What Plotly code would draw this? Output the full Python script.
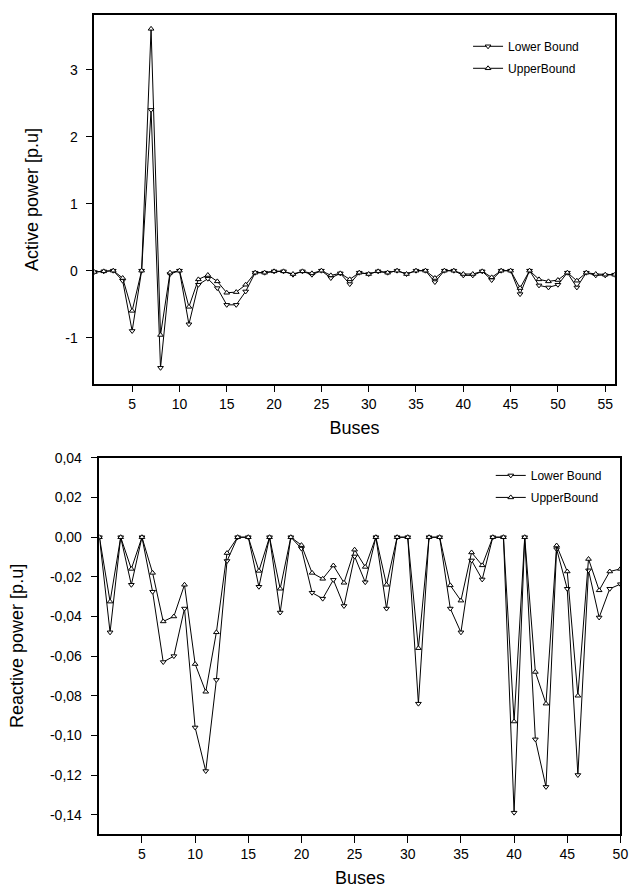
import plotly.graph_objects as go

# ---- Top chart: active power ----
buses_p = list(range(1, 57))
p_lower = [-0.02, -0.01, 0.0, -0.15, -0.90, 0.0, 2.40, -1.45, -0.05, 0.0,
           -0.80, -0.21, -0.12, -0.26, -0.51, -0.51, -0.31, -0.03, -0.03, -0.01,
           -0.01, -0.06, -0.01, -0.06, 0.0, -0.11, -0.04, -0.20, -0.03, -0.05,
           -0.01, -0.03, 0.0, -0.05, 0.0, 0.0, -0.17, 0.0, 0.0, -0.07,
           -0.07, -0.01, -0.14, 0.0, 0.0, -0.35, 0.0, -0.22, -0.25, -0.21,
           -0.03, -0.25, -0.03, -0.07, -0.07, -0.06]
p_upper = [-0.02, -0.01, 0.0, -0.11, -0.60, 0.0, 3.61, -0.96, -0.03, 0.0,
           -0.54, -0.13, -0.065, -0.16, -0.33, -0.32, -0.21, -0.03, -0.03, -0.01,
           -0.01, -0.05, -0.01, -0.04, 0.0, -0.07, -0.04, -0.13, -0.03, -0.05,
           -0.01, -0.03, 0.0, -0.05, 0.0, 0.0, -0.11, 0.0, 0.0, -0.05,
           -0.05, -0.01, -0.10, 0.0, 0.0, -0.26, 0.0, -0.13, -0.16, -0.14,
           -0.03, -0.15, -0.03, -0.05, -0.06, -0.06]
p_xticks = [5, 10, 15, 20, 25, 30, 35, 40, 45, 50, 55]
p_yticks = [-1, 0, 1, 2, 3]
p_yticktext = ["-1", "0", "1", "2", "3"]

# ---- Bottom chart: reactive power ----
buses_q = list(range(1, 51))
q_lower = [0.0, -0.048, 0.0, -0.024, 0.0, -0.0275, -0.063, -0.060, -0.036, -0.096,
           -0.118, -0.072, -0.012, 0.0, 0.0, -0.025, 0.0, -0.038, 0.0, -0.0057,
           -0.028, -0.031, -0.0215, -0.0347, -0.0097, -0.0227, 0.0, -0.036, 0.0, 0.0,
           -0.084, 0.0, 0.0, -0.036, -0.048, -0.0117, -0.0213, 0.0, 0.0, -0.139,
           0.0, -0.102, -0.126, -0.006, -0.026, -0.120, -0.0167, -0.0405, -0.026, -0.0237]
q_upper = [0.0, -0.0325, 0.0, -0.016, 0.0, -0.018, -0.0425, -0.040, -0.024, -0.064,
           -0.078, -0.048, -0.008, 0.0, 0.0, -0.017, 0.0, -0.026, 0.0, -0.004,
           -0.018, -0.021, -0.0143, -0.023, -0.0063, -0.015, 0.0, -0.024, 0.0, 0.0,
           -0.056, 0.0, 0.0, -0.0243, -0.032, -0.0077, -0.0142, 0.0, 0.0, -0.093,
           0.0, -0.068, -0.084, -0.0042, -0.0173, -0.080, -0.011, -0.0268, -0.0173, -0.016]
q_xticks = [5, 10, 15, 20, 25, 30, 35, 40, 45, 50]
q_yticks = [0.04, 0.02, 0.0, -0.02, -0.04, -0.06, -0.08, -0.10, -0.12, -0.14]
q_yticktext = ["0,04", "0,02", "0,00", "-0,02", "-0,04", "-0,06", "-0,08",
               "-0,10", "-0,12", "-0,14"]

W, H = 637, 896
FONT = "Liberation Sans, Arial, sans-serif"

def mk(size):
    return dict(size=size, color="white", line=dict(color="black", width=1))

fig = go.Figure()
fig.add_trace(go.Scatter(x=buses_p, y=p_lower, mode="lines+markers", name="Lower Bound",
                         line=dict(color="black", width=1), legendgroup="a",
                         marker=dict(symbol="triangle-down", **mk(5)),
                         xaxis="x", yaxis="y", legend="legend"))
fig.add_trace(go.Scatter(x=buses_p, y=p_upper, mode="lines+markers", name="UpperBound",
                         line=dict(color="black", width=1), legendgroup="b",
                         marker=dict(symbol="triangle-up", **mk(5)),
                         xaxis="x", yaxis="y", legend="legend"))
fig.add_trace(go.Scatter(x=buses_q, y=q_lower, mode="lines+markers", name="Lower Bound",
                         line=dict(color="black", width=1), legendgroup="c",
                         marker=dict(symbol="triangle-down", **mk(5)),
                         xaxis="x2", yaxis="y2", legend="legend2"))
fig.add_trace(go.Scatter(x=buses_q, y=q_upper, mode="lines+markers", name="UpperBound",
                         line=dict(color="black", width=1), legendgroup="d",
                         marker=dict(symbol="triangle-up", **mk(5)),
                         xaxis="x2", yaxis="y2", legend="legend2"))

axcommon = dict(showgrid=False, zeroline=False, showline=True, linecolor="black",
                linewidth=1.5, mirror=True, ticks="outside", ticklen=7, tickwidth=1.2,
                tickcolor="black", tickfont=dict(size=14, family=FONT, color="black"))

fig.update_layout(
    width=W, height=H,
    margin=dict(l=0, r=0, t=0, b=0),
    paper_bgcolor="white", plot_bgcolor="white",
    font=dict(family=FONT, color="black"),
    xaxis=dict(domain=[95.5 / W, 622.5 / W], range=[1, 56], anchor="y",
               tickvals=p_xticks,
               title=dict(text="Buses", font=dict(size=18), standoff=10), **axcommon),
    yaxis=dict(domain=[1 - 379 / H, 1 - 7.5 / H], range=[-1.686, 3.81], anchor="x",
               tickvals=p_yticks, ticktext=p_yticktext, ticklabelstandoff=5,
               title=dict(text="Active power [p.u]", font=dict(size=18), standoff=22),
               **axcommon),
    xaxis2=dict(domain=[100.7 / W, 628.3 / W], range=[1, 50], anchor="y2",
                tickvals=q_xticks,
                title=dict(text="Buses", font=dict(size=18), standoff=10), **axcommon),
    yaxis2=dict(domain=[1 - 833.3 / H, 1 - 454 / H], range=[-0.1497, 0.04], anchor="x2",
                tickvals=q_yticks, ticktext=q_yticktext, ticklabelstandoff=6,
                title=dict(text="Reactive power [p.u]", font=dict(size=18), standoff=22),
                **axcommon),
    legend=dict(x=474 / W, y=1 - 24 / H, xanchor="left", yanchor="top",
                bgcolor="rgba(0,0,0,0)", font=dict(size=12, family=FONT),
                tracegroupgap=3, itemwidth=30),
    legend2=dict(x=497 / W, y=1 - 457 / H, xanchor="left", yanchor="top",
                 bgcolor="rgba(0,0,0,0)", font=dict(size=12, family=FONT),
                 tracegroupgap=3, itemwidth=30),
)

fig.write_html("out.html", config={"displayModeBar": False},
               post_script="document.body.style.margin='0';")
